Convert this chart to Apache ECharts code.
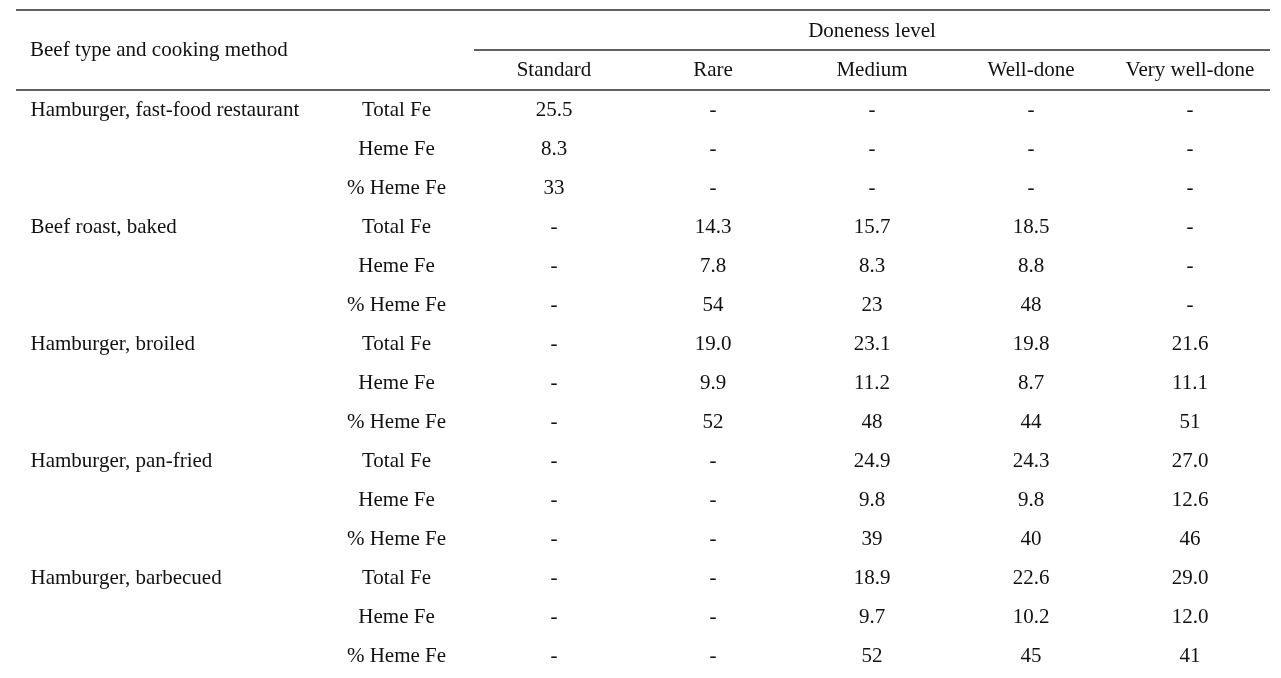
<!DOCTYPE html>
<html>
<head>
<meta charset="utf-8">
<script src="https://cdn.jsdelivr.net/npm/echarts@6/dist/echarts.min.js"></script>
<style>
html,body{margin:0;padding:0;background:#fff;}
#c{width:1281px;height:678px;}
</style>
</head>
<body>
<div id="c"></div>
<script>
// ---- data ----
const groups = ["Hamburger, fast-food restaurant", "Beef roast, baked", "Hamburger, broiled", "Hamburger, pan-fried", "Hamburger, barbecued"];
const measures = ["Total Fe", "Heme Fe", "% Heme Fe"];
const doneness = ["Standard", "Rare", "Medium", "Well-done", "Very well-done"];
const headerLeft = "Beef type and cooking method";
const headerGroup = "Doneness level";
// rows: Total Fe, Heme Fe, % Heme Fe ; columns: doneness
const fastFood  = [[25.5, null, null, null, null], [8.3, null, null, null, null], [33, null, null, null, null]];
const roast     = [[null, 14.3, 15.7, 18.5, null], [null, 7.8, 8.3, 8.8, null], [null, 54, 23, 48, null]];
const broiled   = [[null, 19.0, 23.1, 19.8, 21.6], [null, 9.9, 11.2, 8.7, 11.1], [null, 52, 48, 44, 51]];
const panFried  = [[null, null, 24.9, 24.3, 27.0], [null, null, 9.8, 9.8, 12.6], [null, null, 39, 40, 46]];
const barbecued = [[null, null, 18.9, 22.6, 29.0], [null, null, 9.7, 10.2, 12.0], [null, null, 52, 45, 41]];
const groupValues = [fastFood, roast, broiled, panFried, barbecued];
const decimals = [1, 1, 0];

// ---- build ----
const rowIds = [];
const cells = [];
groupValues.forEach((g, gi) => {
  g.forEach((row, mi) => {
    const r = rowIds.length;
    rowIds.push(String(r));
    row.forEach((v, c) => {
      cells.push({ value: [c, r], text: v == null ? '-' : v.toFixed(decimals[mi]) });
    });
  });
});

const FONT = 'Liberation Serif';
const FS = 21;
const TXT = '#111';
const LINE = '#606060';

const chart = echarts.init(document.getElementById('c'), null, { renderer: 'canvas' });
chart.setOption({
  backgroundColor: '#fff',
  animation: false,
  grid: { left: 474.5, width: 795, top: 91, height: 585 },
  xAxis: {
    type: 'category',
    position: 'top',
    data: doneness,
    axisLine: { show: false },
    axisTick: { show: false },
    splitLine: { show: false },
    axisLabel: { interval: 0, margin: 10, fontFamily: FONT, fontSize: FS, color: TXT }
  },
  yAxis: [
    {
      type: 'category',
      inverse: true,
      data: rowIds,
      axisLine: { show: false },
      axisTick: { show: false },
      axisLabel: {
        interval: 0, align: 'left', margin: 444, fontFamily: FONT, fontSize: FS, color: TXT,
        formatter: (v, i) => (i % 3 === 0 ? groups[i / 3] : '')
      }
    },
    {
      type: 'category',
      inverse: true,
      position: 'left',
      data: rowIds,
      axisLine: { show: false },
      axisTick: { show: false },
      axisLabel: {
        interval: 0, align: 'center', margin: 78, fontFamily: FONT, fontSize: FS, color: TXT,
        formatter: (v, i) => measures[i % 3]
      }
    }
  ],
  series: [{
    type: 'scatter',
    xAxisIndex: 0,
    yAxisIndex: 0,
    symbolSize: 0,
    itemStyle: { opacity: 1 },
    data: cells,
    label: {
      show: true,
      position: 'inside',
      formatter: p => p.data.text,
      fontFamily: FONT, fontSize: FS, color: TXT
    },
    emphasis: { disabled: true }
  }],
  graphic: [
    { type: 'line', shape: { x1: 16, y1: 10, x2: 1270, y2: 10 }, style: { stroke: LINE, lineWidth: 2 } },
    { type: 'line', shape: { x1: 474, y1: 50, x2: 1270, y2: 50 }, style: { stroke: LINE, lineWidth: 2 } },
    { type: 'line', shape: { x1: 16, y1: 90, x2: 1270, y2: 90 }, style: { stroke: LINE, lineWidth: 2 } },
    { type: 'text', x: 30, y: 50, style: { text: headerLeft, font: FS + 'px "Liberation Serif"', fill: TXT, align: 'left', verticalAlign: 'middle' } },
    { type: 'text', x: 872, y: 31, style: { text: headerGroup, font: FS + 'px "Liberation Serif"', fill: TXT, align: 'center', verticalAlign: 'middle' } }
  ]
});
</script>
</body>
</html>
